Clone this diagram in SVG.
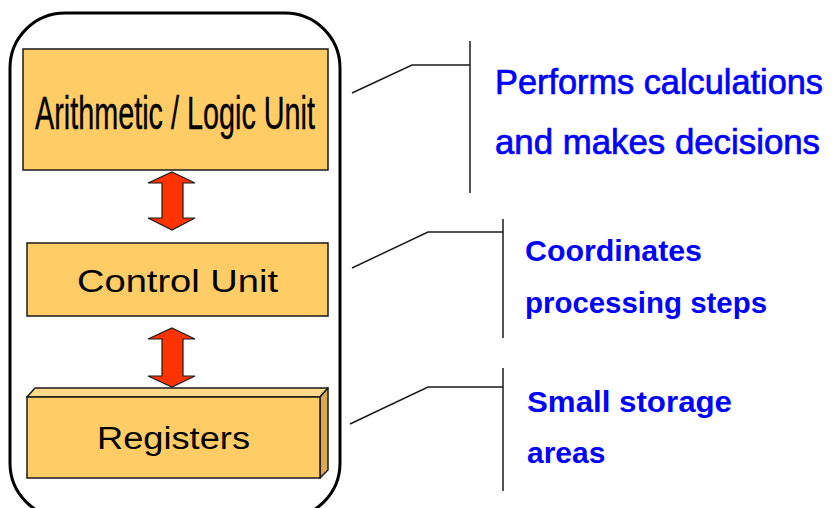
<svg xmlns="http://www.w3.org/2000/svg" width="833" height="508" viewBox="0 0 833 508">
  <style>
    .box { fill: #FFCC66; stroke: #1a1a1a; stroke-width: 1.5; }
    .top { fill: #FFD98A; stroke: #1a1a1a; stroke-width: 1.5; stroke-linejoin: round; }
    .side { fill: #D9A955; stroke: #1a1a1a; stroke-width: 1.5; stroke-linejoin: round; }
    .arrow { fill: #FF3300; stroke: #1a1a1a; stroke-width: 1.2; stroke-linejoin: miter; }
    .label { font-family: "Liberation Sans", Arial, sans-serif; fill: #000; text-anchor: middle; }
    .note { font-family: "Liberation Sans", Arial, sans-serif; fill: #0000FF; }
    .heavy { stroke: #0000FF; stroke-width: 0.7; }
    .callout { fill: none; stroke: #1a1a1a; stroke-width: 1.5; }
  </style>

  <rect width="833" height="508" fill="#FFFFFF"/>

  <!-- CPU outline -->
  <g id="cpu">
    <rect x="10" y="13" width="330" height="505" rx="55" ry="55" fill="none" stroke="#000" stroke-width="3"/>
  </g>

  <g id="alu">
    <rect class="box" x="23" y="49" width="305" height="121"/>
    <text class="label" x="175" y="129" font-size="47" stroke="#000" stroke-width="0.4" textLength="280" lengthAdjust="spacingAndGlyphs">Arithmetic / Logic Unit</text>
  </g>

  <g id="control-unit">
    <rect class="box" x="27" y="243" width="301" height="73"/>
    <text class="label" x="177.5" y="292" font-size="31" textLength="201" lengthAdjust="spacingAndGlyphs">Control Unit</text>
  </g>

  <g id="registers">
    <polygon class="top" points="27,397 35,388 328,388 320,397"/>
    <polygon class="side" points="320,397 328,388 328,470 320,478"/>
    <rect class="box" x="27" y="397" width="293" height="81"/>
    <text class="label" x="173.5" y="449" font-size="31" textLength="153" lengthAdjust="spacingAndGlyphs">Registers</text>
  </g>

  <!-- Connectors: double arrows and callout brackets -->
  <g id="connectors">
    <polygon class="arrow" points="172,172 195,183 183,183 183,218 195,218 172,230 148,218 162,218 162,183 148,183"/>
    <polygon class="arrow" points="172,328 195,339 183,339 183,376 195,376 172,387 148,376 162,376 162,339 148,339"/>

    <polyline class="callout" points="352,93 412,65 470,65"/>
    <line class="callout" x1="470" y1="41" x2="470" y2="193"/>

    <polyline class="callout" points="352,268 428,232 503,232"/>
    <line class="callout" x1="503" y1="219" x2="503" y2="338"/>

    <polyline class="callout" points="350,424 428,387 503,387"/>
    <line class="callout" x1="503" y1="368" x2="503" y2="491"/>
  </g>

  <g id="alu-note">
    <text class="note heavy" x="495" y="94" font-size="35" textLength="328" lengthAdjust="spacingAndGlyphs">Performs calculations</text>
    <text class="note heavy" x="495" y="154" font-size="35" textLength="325" lengthAdjust="spacingAndGlyphs">and makes decisions</text>
  </g>

  <g id="control-note">
    <text class="note" x="525" y="261" font-size="30" font-weight="bold" textLength="177" lengthAdjust="spacingAndGlyphs">Coordinates</text>
    <text class="note" x="525" y="313" font-size="30" font-weight="bold" textLength="242" lengthAdjust="spacingAndGlyphs">processing steps</text>
  </g>

  <g id="registers-note">
    <text class="note" x="527" y="412" font-size="30" font-weight="bold" textLength="205" lengthAdjust="spacingAndGlyphs">Small storage</text>
    <text class="note" x="527" y="463" font-size="30" font-weight="bold">areas</text>
  </g>
</svg>
